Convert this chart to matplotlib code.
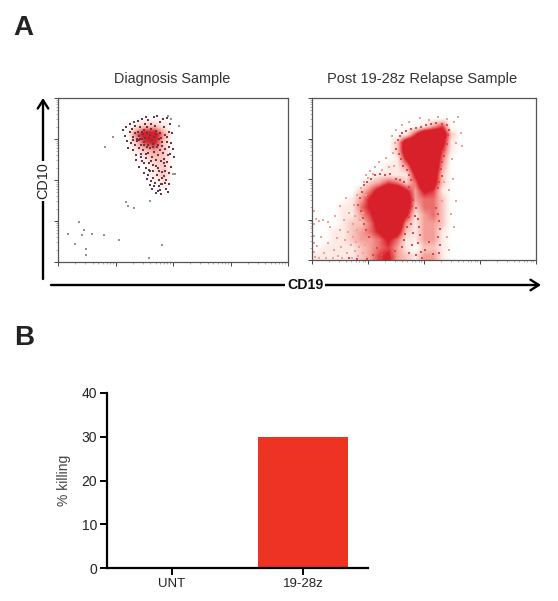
import matplotlib
matplotlib.use('Agg')
import matplotlib.pyplot as plt
from matplotlib.colors import LinearSegmentedColormap
import numpy as np

plt.rcParams['font.family'] = ['Liberation Sans', 'DejaVu Sans']

W, H = 558, 601

# flow plots: event density, digit 0-9 per cell
# cells are 4% of the x range by 5% of the y range, top row first
diag_density = [
    '0000000000000000000000000',
    '0000000000000000000000000',
    '0000000000000000000000000',
    '0000000012210000000000000',
    '0000000047730000000000000',
    '0000000025620000000000000',
    '0000000012320000000000000',
    '0000000001220000000000000',
    '0000000000120000000000000',
    '0000000000120000000000000',
    '0000000000010000000000000',
]
relapse_density = [
    '0000000000000000000000000',
    '0000000000000000000000000',
    '0000000000000000000000000',
    '0000000000001350000000000',
    '0000000000159982000000000',
    '0000000002899971000000000',
    '0000000002899951000000000',
    '0000000001699940000000000',
    '0000000011389930000000000',
    '0000000111169820000000000',
    '0000002354249720000000000',
    '0000024799636510000000000',
    '0000136999834420000000000',
    '0001146999824420000000000',
    '0001135899613420000000000',
    '0001224799313320000000000',
    '0011234687213310000000000',
    '0011233464113310000000000',
    '0111123453102210000000000',
    '1111123563213310000000000',
]

# single events, percent of the axis range
diag_sparse = [(4.3, 17.3), (7.2, 10.8), (9, 24.5), (10.4, 16.3), (11.2, 19.4), (12, 8.2), (12, 4.1),
               (14.9, 17.3), (19.9, 16.3), (26.5, 13.3), (29.4, 36.7), (30.4, 34), (32.9, 32.7),
               (39.9, 37.3), (45.2, 10.4), (39.4, 2.7), (20.3, 70), (23.9, 76.5), (52.5, 82.7),
               (50, 53.5), (51, 53.5), (47.8, 88.8), (49.3, 87)]
diag_events = [(28.3, 80.2), (29.1, 76.6), (29.4, 82.3), (30.2, 73.8), (30.6, 69.7), (31.3, 79.1), (31.1, 84.2),
               (31.7, 72.4), (32.4, 76.3), (32.1, 81.4), (32.8, 68.2), (33.1, 85.3), (33.4, 71.2), (33.7, 62.4),
               (33.6, 83.1), (34.2, 73.5), (34.1, 65.3), (34.7, 79.4), (34.9, 86.1), (35.2, 69.3), (35.1, 58.2),
               (35.7, 75.2), (35.6, 82.4), (36.2, 66.1), (36, 71.4), (36.6, 87.2), (36.4, 61.3), (36.9, 78.1),
               (37.2, 54.2), (37.1, 68.4), (37.7, 84.3), (37.5, 73.1), (38.1, 63.4), (38.4, 88.2), (38.2, 57.3),
               (38.7, 70.1), (38.6, 50.4), (39.2, 66.2), (39.1, 86.3), (39.6, 60.1), (39.5, 75.4), (39.9, 47.2),
               (40.1, 69.3), (40.4, 84.1), (40.2, 55.4), (40.7, 64.2), (40.9, 44.3), (41.2, 72.1), (41.1, 51.4),
               (41.6, 88.3), (41.5, 59.2), (41.9, 67.1), (42.2, 48.4), (42.1, 83.2), (42.6, 62.3), (42.4, 42.1),
               (42.9, 70.4), (43.2, 53.2), (43.1, 89.3), (43.6, 57.1), (43.4, 65.4), (43.9, 46.2), (44.2, 85.1),
               (44.1, 50.3), (44.6, 61.4), (44.4, 68.2), (44.9, 41.3), (45.2, 55.1), (45.1, 73.4), (45.6, 87.2),
               (45.4, 47.3), (45.9, 63.1), (46.2, 52.4), (46.1, 82.2), (46.6, 58.3), (46.4, 69.1), (46.9, 44.4),
               (47.2, 76.2), (47.1, 50.3), (47.6, 88.1), (47.4, 61.2), (47.9, 42.4), (48.2, 79.3), (48.1, 54.2),
               (48.6, 66.1), (48.4, 47.4), (48.9, 84.2), (49.2, 72.3), (49.1, 58.1), (49.7, 78.4), (50.1, 69.2),
               (50.3, 64.3), (43.8, 55.2), (45.3, 51.4), (46.7, 48.1), (44.3, 44.2), (42.7, 58.4), (41.3, 55.2),
               (40.3, 61.4), (39.3, 53.2), (38.3, 66.1), (37.3, 60.2), (36.3, 64.1), (35.3, 77.1), (34.3, 75.3),
               (33.3, 78.4), (32.6, 74.2), (46.4, 77.3), (47.4, 73.2), (48.3, 70.1), (47.7, 65.3), (46.1, 60.4),
               (45.7, 66.3), (46.6, 55.2), (44.8, 47.6), (43.4, 43.3), (41.7, 46.2), (40.6, 49.3), (39.7, 56.1),
               (37.4, 80.3), (38.8, 82.1), (40.6, 81.2), (42.6, 80.1), (44.4, 78.6), (43.7, 75.3), (41.8, 76.4),
               (39.8, 77.3), (38, 75.6), (36.4, 79.4), (35.1, 74.1), (37.2, 71.4), (39.3, 71.1), (41.5, 70.2),
               (43.3, 71.6), (45.3, 70.6), (44.6, 75.6), (42.8, 78.2), (40.8, 74.2), (38.7, 78.7), (36.6, 75.2)]
relapse_events = [(1.2, 2.1), (2.3, 8.4), (3.1, 1.2), (4.2, 14.3), (5.4, 4.1), (6.3, 1.1), (7.2, 10.4), (8.1, 20.2),
                  (9.3, 1.3), (9.6, 6.4), (10.2, 27.1), (11.1, 13.3), (11.7, 2.2), (12.3, 18.4), (12.6, 33.2),
                  (13.1, 8.3), (13.6, 1.1), (14.2, 24.4), (14.7, 12.1), (15.2, 38.3), (15.6, 4.2), (16.1, 17.4),
                  (16.7, 29.1), (17.2, 9.3), (17.7, 1.4), (18.1, 22.2), (18.4, 14.3), (18.8, 34.1), (19.2, 5.4),
                  (19.4, 27.2), (19.7, 11.3), (20.1, 40.1), (20.3, 18.4), (20.6, 2.2), (20.9, 31.3), (21.2, 8.1),
                  (21.4, 24.4), (21.7, 44.2), (22.1, 13.3), (22.3, 37.1), (22.6, 4.4), (22.8, 29.2), (23.1, 48.3),
                  (23.4, 18.1), (23.7, 9.4), (24, 40.2), (24.3, 52.3), (24.6, 2.1), (25.2, 50.4), (26.1, 55.2),
                  (27.3, 53.1), (28.2, 57.4), (30.1, 60.2), (31.2, 55.3), (33.1, 63.1), (34.3, 57.4), (36.2, 66.2),
                  (36.7, 58.3), (37.1, 72.1), (35.6, 76.4), (37.7, 80.2), (40.2, 83.3), (43.1, 85.1), (48.3, 87.4),
                  (52.2, 86.2), (56.1, 88.3), (60.3, 87.1), (63.2, 85.4), (65.1, 88.2), (66.3, 78.3), (64.2, 72.1),
                  (67.1, 70.4), (62.3, 62.2), (63.1, 50.3), (61.2, 43.1), (64.3, 36.4), (62.2, 28.2), (63.3, 20.3),
                  (60.1, 14.1), (61.3, 6.4), (58.2, 36.2), (59.1, 48.3), (1, 5.2), (0.8, 10.3), (0.9, 15.1),
                  (0.7, 22.4), (0.8, 30.2), (1.6, 25.3), (3.2, 24.1), (5.1, 24.4), (7.3, 23.2)]
relapse_edge = [(38.3, 74.1), (39.1, 76.4), (40.3, 78.2), (42.1, 79.7), (44.2, 81.1), (46.4, 81.6), (48.6, 82.3),
                (50.7, 83.2), (53.1, 84.1), (55.3, 84.6), (58.2, 84.2), (60.1, 83.3), (61.3, 80.2), (60.6, 77.1),
                (59.7, 74.3), (60.2, 71.4), (59.1, 68.2), (58.8, 64.3), (58.1, 60.2), (57.4, 56.4), (57.9, 52.1),
                (56.6, 48.3), (56.2, 44.2), (37.6, 68.3), (38.8, 65.2), (39.6, 62.4), (40.7, 58.1), (42.2, 55.3),
                (43.1, 52.4), (44.2, 49.2), (23.4, 46.2), (24.6, 48.3), (26.2, 50.1), (28.3, 52.4), (30.4, 53.2),
                (32.6, 52.6), (34.8, 53.1), (37.3, 50.2), (39.2, 49.4), (41.1, 48.3), (43.2, 45.2), (44.3, 41.1),
                (45.2, 37.3), (44.6, 33.4), (43.7, 30.2), (43.1, 26.3), (22.2, 42.1), (21.4, 38.3), (20.6, 34.2),
                (21.7, 30.4), (22.8, 26.1), (23.1, 22.3), (24.2, 18.4), (25.3, 14.2), (42.4, 20.1), (41.6, 16.3),
                (41.1, 12.4), (40.2, 8.1), (47.1, 25.2), (47.8, 20.3), (48.2, 15.4), (47.4, 10.2), (48.6, 5.1),
                (55.2, 32.4), (56.1, 28.1), (56.7, 24.3), (57.2, 19.4), (56.4, 14.2), (57.3, 9.1), (56.6, 4.3),
                (27.1, 3.2), (29.2, 7.4), (31.3, 3.1), (33.4, 6.2), (35.6, 2.3), (37.2, 5.4), (50.3, 6.2),
                (52.4, 11.3), (54.1, 3.4), (49.2, 1.1), (30.6, 1.2), (24.4, 0.9), (20.2, 0.8), (16.3, 1.1),
                (44.1, 22.2), (45.2, 16.4), (44.7, 9.2), (46.3, 3.3), (43.3, 4.1), (45.8, 27.3), (46.6, 32.1)]

# bar chart
bar_labels = ['UNT', '19-28z']
bar_values = [0, 30]

flow_cmap = LinearSegmentedColormap.from_list(
    'flow', [(0, '#ffffff'), (0.11, '#fdeae5'), (0.3, '#f6ada5'), (0.48, '#e95f5f'), (0.62, '#d8202b'), (1, '#d8202b')])


def panel_rect(left, top, right, bottom):
    return [left / W, 1 - bottom / H, (right - left) / W, (bottom - top) / H]


def style_flow(ax):
    ax.set_xlim(0, 100)
    ax.set_ylim(0, 100)
    ax.set_aspect('auto')
    major = [i * 25 for i in range(5)]
    minor = [d * 25 + 25 * np.log10(k) for d in range(4) for k in range(2, 10)]
    for axis in (ax.xaxis, ax.yaxis):
        axis.set_ticks(major)
        axis.set_ticks(minor, minor=True)
        axis.set_ticklabels([])
    ax.tick_params(which='major', length=3, width=0.7, color='#444444')
    ax.tick_params(which='minor', length=1.5, width=0.4, color='#777777')
    for spine in ax.spines.values():
        spine.set_color('#555555')
        spine.set_linewidth(0.9)


def draw_density(ax, rows):
    grid = np.array([[int(c) for c in r] for r in rows], dtype=float)
    top = 100
    bottom = 100 - 5 * len(rows)
    ax.imshow(grid, extent=(0, 100, bottom, top), cmap=flow_cmap, vmin=0, vmax=9,
              interpolation='bilinear', aspect='auto', zorder=1)


def scatter_events(ax, events, color, size):
    xs, ys = zip(*events)
    ax.scatter(xs, ys, s=size, c=color, marker='s', linewidths=0, zorder=2)


fig = plt.figure(figsize=(W / 100, H / 100), dpi=100, facecolor='white')

# diagnosis sample
ax1 = fig.add_axes(panel_rect(58, 98, 288, 262))
draw_density(ax1, diag_density)
scatter_events(ax1, diag_sparse, '#9a8f93', 1.0)
scatter_events(ax1, diag_events, '#6b3445', 0.55)
style_flow(ax1)

# relapse sample
ax2 = fig.add_axes(panel_rect(312, 98, 536, 260))
draw_density(ax2, relapse_density)
scatter_events(ax2, relapse_events, '#f0a09b', 1.0)
scatter_events(ax2, relapse_edge, '#e0484c', 0.9)
style_flow(ax2)

# bar chart
ax3 = fig.add_axes(panel_rect(107, 393, 368, 568))
ax3.bar(range(len(bar_values)), bar_values, width=0.687, color='#ee3224')
ax3.set_xlim(-0.496, 1.496)
ax3.set_ylim(0, 40)
ax3.set_yticks([0, 10, 20, 30, 40])
ax3.set_xticks(range(len(bar_labels)))
ax3.set_xticklabels(bar_labels)
ax3.set_ylabel('% killing', fontsize=10, color='#444444', labelpad=8)
ax3.tick_params(axis='both', length=5, width=1.4, labelsize=9.5, pad=2, labelcolor='#222222')
ax3.tick_params(axis='y', labelsize=10)
ax3.spines['top'].set_visible(False)
ax3.spines['right'].set_visible(False)
ax3.spines['left'].set_linewidth(1.6)
ax3.spines['bottom'].set_linewidth(1.6)
ax3.patch.set_alpha(0)

# overlay in pixel coordinates for arrows and letters
ov = fig.add_axes([0, 0, 1, 1], zorder=5)
ov.set_xlim(0, W)
ov.set_ylim(H, 0)
ov.axis('off')
arrow = dict(arrowstyle='->,head_length=0.6,head_width=0.38', lw=1.7, color='black', shrinkA=0, shrinkB=0)
ov.annotate('', xy=(43, 98), xytext=(43, 279), arrowprops=arrow)
ov.annotate('', xy=(541, 285), xytext=(51, 285), arrowprops=arrow)
ov.text(43, 181, 'CD10', rotation=90, ha='center', va='center', fontsize=10.4, color='#222222',
        bbox=dict(facecolor='white', edgecolor='none', pad=1.5))
ov.text(305, 285, 'CD19', ha='center', va='center', fontsize=10.2, fontweight='bold', color='#111111',
        bbox=dict(facecolor='white', edgecolor='none', pad=1.5))
ov.text(172, 79, 'Diagnosis Sample', ha='center', va='center', fontsize=10.4, color='#333333')
ov.text(422, 79, 'Post 19-28z Relapse Sample', ha='center', va='center', fontsize=10.5, color='#333333')
ov.text(13, 28, 'A', ha='left', va='center', fontsize=20, fontweight='bold', color='#222222')
ov.text(14, 338, 'B', ha='left', va='center', fontsize=20, fontweight='bold', color='#222222')

fig.savefig('out.png', dpi=100)
